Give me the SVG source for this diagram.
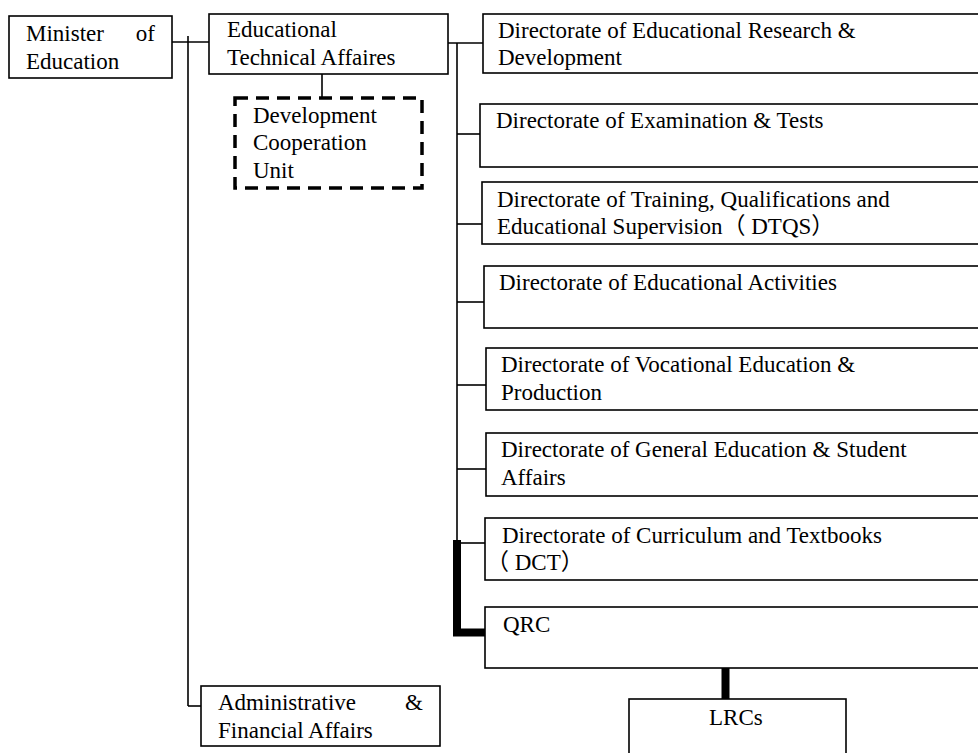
<svg xmlns="http://www.w3.org/2000/svg" width="978" height="753" viewBox="0 0 978 753">
  <style>
    .box { fill: #ffffff; stroke: #000000; stroke-width: 1.6; }
    .dash { fill: #ffffff; stroke: #000000; stroke-width: 3.5; stroke-dasharray: 13 8; }
    .line { fill: none; stroke: #000000; stroke-width: 1.6; }
    .thick { fill: none; stroke: #000000; stroke-width: 8; stroke-linejoin: miter; }
    text { font-family: "Liberation Serif", "Noto Sans CJK SC", serif; font-size: 23px; fill: #000000; }
  </style>
  <rect width="978" height="753" fill="#ffffff"/>

  <!-- connectors -->
  <g id="connectors">
    <line class="line" x1="172" y1="42" x2="209" y2="42"/>
    <line class="line" x1="188" y1="36" x2="188" y2="706"/>
    <line class="line" x1="188" y1="706" x2="203" y2="706"/>
    <line class="line" x1="322" y1="74" x2="322" y2="98"/>
    <line class="line" x1="448" y1="43" x2="483" y2="43"/>
    <line class="line" x1="457" y1="43" x2="457" y2="541"/>
    <line class="line" x1="457" y1="134" x2="482" y2="134"/>
    <line class="line" x1="457" y1="224" x2="484" y2="224"/>
    <line class="line" x1="457" y1="302" x2="484" y2="302"/>
    <line class="line" x1="457" y1="385" x2="486" y2="385"/>
    <line class="line" x1="457" y1="469" x2="486" y2="469"/>
    <line class="line" x1="457" y1="543" x2="485" y2="543"/>
    <path class="thick" d="M457,540 V632.5 H485"/>
    <line class="thick" x1="725.5" y1="668" x2="725.5" y2="699"/>
  </g>

  <g id="minister">
    <rect class="box" x="9" y="16" width="163" height="62"/>
    <text x="26" y="41">Minister</text>
    <text x="155" y="41" text-anchor="end">of</text>
    <text x="26" y="69">Education</text>
  </g>

  <g id="educational-technical">
    <rect class="box" x="209" y="14" width="239" height="60"/>
    <text x="227" y="37">Educational</text>
    <text x="227" y="65">Technical Affaires</text>
  </g>

  <g id="development-cooperation">
    <rect class="dash" x="235" y="98" width="187" height="90"/>
    <text x="253" y="123">Development</text>
    <text x="253" y="150">Cooperation</text>
    <text x="253" y="178">Unit</text>
  </g>

  <g id="administrative-financial">
    <rect class="box" x="201" y="686" width="239" height="60"/>
    <text x="218" y="710">Administrative</text>
    <text x="405" y="710">&amp;</text>
    <text x="218" y="738">Financial Affairs</text>
  </g>

  <g id="research-development">
    <rect class="box" x="483" y="14" width="510" height="59"/>
    <text x="498" y="38">Directorate of Educational Research &amp;</text>
    <text x="498" y="65">Development</text>
  </g>

  <g id="examination-tests">
    <rect class="box" x="480" y="104" width="513" height="63"/>
    <text x="496" y="128">Directorate of Examination &amp; Tests</text>
  </g>

  <g id="dtqs">
    <rect class="box" x="482" y="182" width="511" height="62"/>
    <text x="497" y="207">Directorate of Training, Qualifications and</text>
    <text x="497" y="234">Educational Supervision（ DTQS）</text>
  </g>

  <g id="educational-activities">
    <rect class="box" x="484" y="266" width="509" height="62"/>
    <text x="499" y="290">Directorate of Educational Activities</text>
  </g>

  <g id="vocational-education">
    <rect class="box" x="486" y="348" width="507" height="62"/>
    <text x="501" y="372">Directorate of Vocational Education &amp;</text>
    <text x="501" y="400">Production</text>
  </g>

  <g id="general-education">
    <rect class="box" x="486" y="433" width="507" height="63"/>
    <text x="501" y="457">Directorate of General Education &amp; Student</text>
    <text x="501" y="485">Affairs</text>
  </g>

  <g id="dct">
    <rect class="box" x="485" y="518" width="508" height="62"/>
    <text x="502" y="543">Directorate of Curriculum and Textbooks</text>
    <text x="486" y="570">（ DCT）</text>
  </g>

  <g id="qrc">
    <rect class="box" x="485" y="607" width="508" height="61"/>
    <text x="503" y="632">QRC</text>
  </g>

  <g id="lrcs">
    <rect class="box" x="629" y="699" width="217" height="70"/>
    <text x="709" y="725">LRCs</text>
  </g>
</svg>
